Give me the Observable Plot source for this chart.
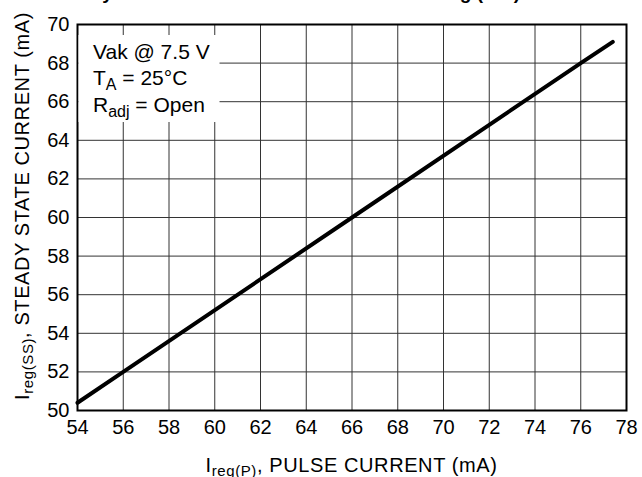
<!DOCTYPE html>
<html>
<head>
<meta charset="utf-8">
<script src="https://cdn.jsdelivr.net/npm/d3@7"></script>
<script src="https://cdn.jsdelivr.net/npm/@observablehq/plot@0.6"></script>
<style>
  html, body { margin: 0; padding: 0; background: white; overflow: hidden; }
  #wrap { position: relative; width: 642px; height: 477px; }
  #wrap svg { position: absolute; left: 0; top: 0; z-index: 1; }
  #title { position: absolute; top: -18px; right: 122px; text-align: right; z-index: 2; line-height: 22px;
           font: bold 19px "Liberation Sans", Arial, sans-serif; color: #000; white-space: nowrap; }
</style>
</head>
<body>
<div id="wrap"><div id="title">Steady State Current vs. Pulse Current Testing (mA)</div></div>
<script>
// Data
const pulseCurrent = [54, 56, 66, 76, 77.4];          // Ireg(P), mA
const steadyCurrent = [50.4, 52, 60, 68, 69.1];       // Ireg(SS), mA
const xTicks = [54, 56, 58, 60, 62, 64, 66, 68, 70, 72, 74, 76, 78];
const yTicks = [50, 52, 54, 56, 58, 60, 62, 64, 66, 68, 70];
const legendLines = [
  {main: "Vak @ 7.5 V", sub: "", rest: ""},
  {main: "T", sub: "A", rest: " = 25°C"},
  {main: "R", sub: "adj", rest: " = Open"}
];

const data = pulseCurrent.map((x, i) => ({x, y: steadyCurrent[i]}));
const font = '"Liberation Sans", Arial, Helvetica, sans-serif';

const chart = Plot.plot({
  width: 642,
  height: 477,
  marginLeft: 77,
  marginRight: 16,
  marginTop: 24,
  marginBottom: 67,
  style: {fontFamily: font, fontSize: "20px", color: "#000", background: "transparent"},
  x: {domain: [54, 78], label: null},
  y: {domain: [50, 70], label: null},
  marks: [
    Plot.gridX(xTicks, {stroke: "#333", strokeOpacity: 1, strokeWidth: 1}),
    Plot.gridY(yTicks, {stroke: "#333", strokeOpacity: 1, strokeWidth: 1}),
    Plot.axisX(xTicks, {tickSize: 0, tickPadding: 9, fontSize: 20, label: null}),
    Plot.axisY(yTicks, {tickSize: 0, tickPadding: 8, fontSize: 20, label: null}),
    Plot.frame({stroke: "#000", strokeWidth: 2}),
    Plot.line(data, {x: "x", y: "y", stroke: "#000", strokeWidth: 4})
  ]
});

document.getElementById("wrap").appendChild(chart);

const svg = d3.select(chart);
const xs = chart.scale("x"), ys = chart.scale("y");
const pLeft = xs.apply(54), pTop = ys.apply(70), pBottom = ys.apply(50), pRight = xs.apply(78);

// Legend box (white, covering the grid)
const g = svg.append("g");
g.append("rect")
  .attr("x", pLeft + 1.5).attr("y", pTop + 11)
  .attr("width", 141).attr("height", 87)
  .attr("fill", "white");
const lg = g.append("g").attr("font-family", font).attr("font-size", 21)
  .attr("fill", "#000").attr("text-anchor", "start");
legendLines.forEach((l, i) => {
  const t = lg.append("text").attr("x", pLeft + 16).attr("y", pTop + 35 + i * 26.3);
  t.append("tspan").text(l.main);
  if (l.sub) {
    t.append("tspan").attr("dy", 5).attr("font-size", 16).text(l.sub);
    t.append("tspan").attr("dy", -5).text(l.rest);
  }
});

// Axis titles with subscripts
const xl = svg.append("text")
  .attr("x", (pLeft + pRight) / 2).attr("y", 472)
  .attr("text-anchor", "middle").attr("font-family", font).attr("font-size", 20)
  .attr("letter-spacing", 0.6).attr("fill", "#000");
xl.append("tspan").text("I");
xl.append("tspan").attr("dy", 4).attr("font-size", 15).text("reg(P)");
xl.append("tspan").attr("dy", -4).text(", PULSE CURRENT (mA)");

const yl = svg.append("text")
  .attr("transform", `translate(29,${(pTop + pBottom) / 2 - 11}) rotate(-90)`)
  .attr("text-anchor", "middle").attr("font-family", font).attr("font-size", 20)
  .attr("letter-spacing", 0.6).attr("fill", "#000");
yl.append("tspan").text("I");
yl.append("tspan").attr("dy", 4).attr("font-size", 15).text("reg(SS)");
yl.append("tspan").attr("dy", -4).text(", STEADY STATE CURRENT (mA)");
</script>
</body>
</html>
